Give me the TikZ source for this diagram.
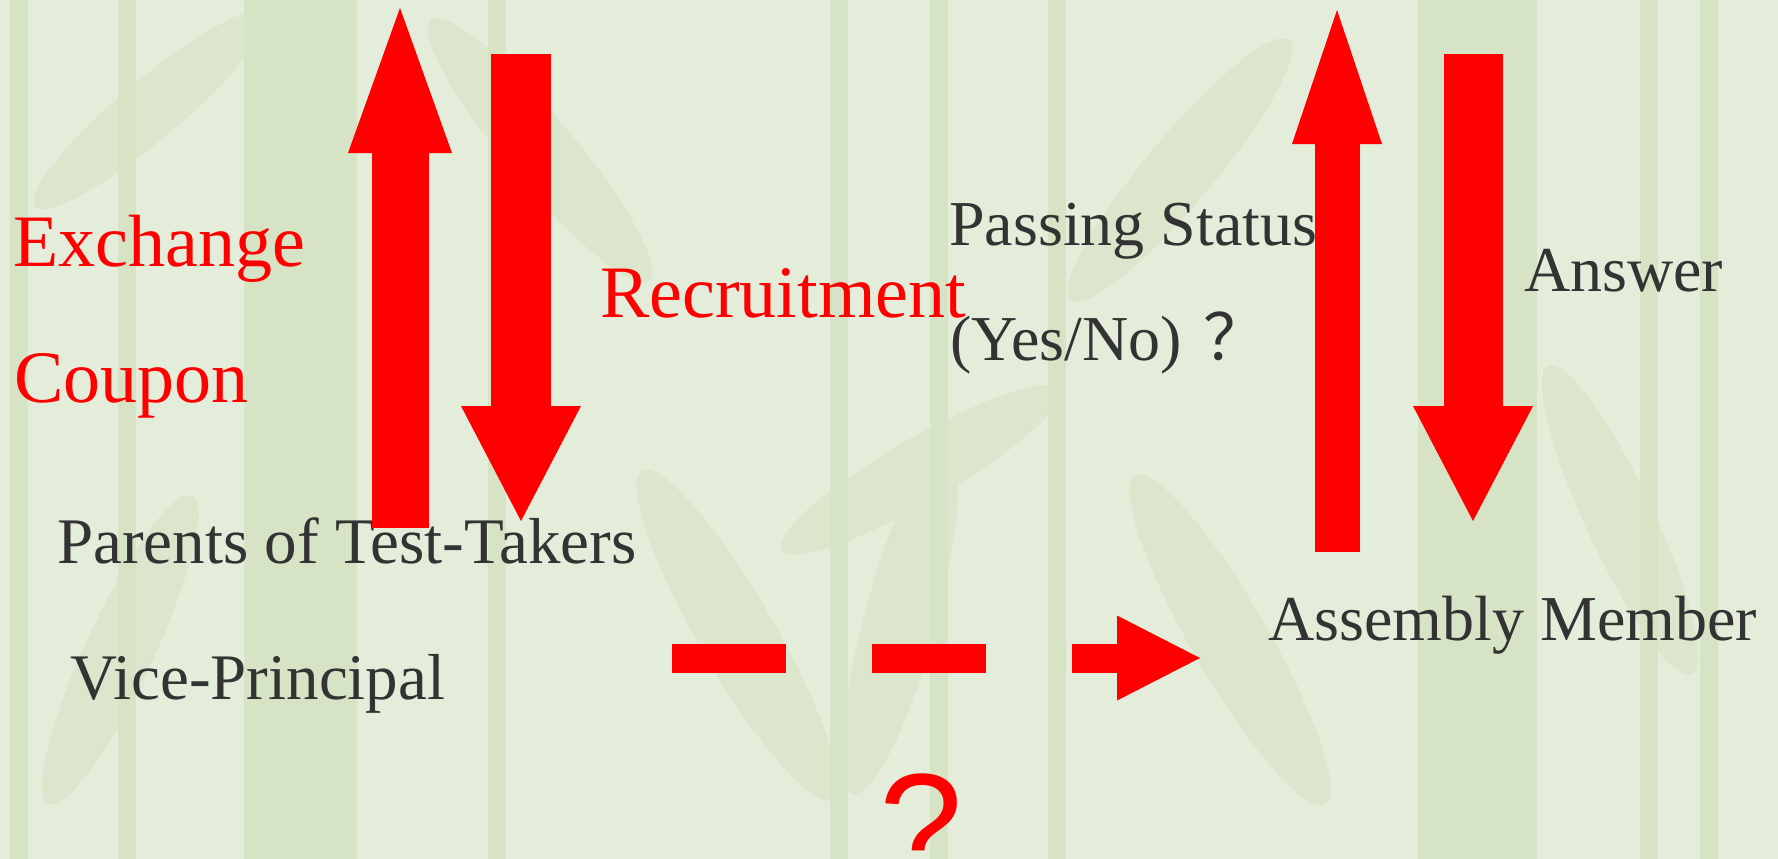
\documentclass[tikz,border=0pt]{standalone}
\usepackage{fontspec}
\setmainfont{Liberation Serif}
\newfontfamily\cjk{Noto Sans CJK SC}
\newfontfamily\qfont{Liberation Sans}
\usetikzlibrary{arrows.meta}
\definecolor{bamboobg}{RGB}{228,237,218}
\definecolor{bamboo}{RGB}{214,227,197}
\definecolor{leaf}{RGB}{219,230,205}
\definecolor{textgray}{RGB}{51,51,51}

\begin{document}
\begin{tikzpicture}[x=1pt, y=-1pt,
  every node/.style = {inner sep=0pt, anchor=base west},
  redlabel/.style = {text=red, font=\fontsize{74}{80}\selectfont},
  graylabel/.style = {text=textgray, font=\fontsize{64}{70}\selectfont},
  redtip/.style = {-{Triangle[length=#1, line width=0pt]}},
  flow/.style = {draw=red, line width=#1}]

  % background
  \useasboundingbox (0,0) rectangle (1778,859);
  \clip (0,0) rectangle (1778,859);
  \fill[bamboobg] (0,0) rectangle (1778,859);
  \fill[leaf, rotate around={-60:(737,635)}] (737,635) ellipse (190 and 38);
  \fill[leaf, rotate around={-105:(900,620)}] (900,620) ellipse (180 and 36);
  \fill[leaf, rotate around={40:(150,110)}] (150,110) ellipse (150 and 30);
  \fill[leaf, rotate around={-50:(540,150)}] (540,150) ellipse (170 and 34);
  \fill[leaf, rotate around={-130:(1180,170)}] (1180,170) ellipse (170 and 34);
  \fill[leaf, rotate around={-60:(1230,640)}] (1230,640) ellipse (190 and 38);
  \fill[leaf, rotate around={30:(920,470)}] (920,470) ellipse (160 and 32);
  \fill[leaf, rotate around={-115:(120,650)}] (120,650) ellipse (170 and 34);
  \fill[leaf, rotate around={-65:(1620,520)}] (1620,520) ellipse (170 and 34);
  \fill[bamboo] (244,0) rectangle (357,859);
  \fill[bamboo] (1418,0) rectangle (1537,859);
  \foreach \x in {10,118,488,830,930,1048,1640,1700}
    \fill[bamboo] (\x,0) rectangle (\x+18,859);

  % labels
  \node[redlabel] (exchange) at (13,266) {Exchange};
  \node[redlabel] (coupon) at (14,402) {Coupon};
  \node[redlabel] (recruit) at (600,317) {Recruitment};
  \node[graylabel, font=\fontsize{65}{70}\selectfont] (parents) at (57,563) {Parents of Test-Takers};
  \node[graylabel, font=\fontsize{65}{70}\selectfont] (vice) at (70,699) {Vice-Principal};
  \node[graylabel] (passing) at (949,245) {Passing Status};
  \node[graylabel] (yesno) at (950,360) {(Yes/No)\hspace{22pt}{\cjk ？}};
  \node[graylabel] (answer) at (1524,291) {Answer};
  \node[graylabel] (member) at (1268,640) {Assembly Member};
  \node[text=red, font=\qfont\fontsize{150}{160}\selectfont, anchor=north] (query) at (921,774) {?};

  % block arrows
  \coordinate (coupon-from) at (400,528);
  \coordinate (coupon-to) at (400,8);
  \coordinate (recruit-from) at (521,54);
  \coordinate (recruit-to) at (521,521);
  \coordinate (status-from) at (1337,552);
  \coordinate (status-to) at (1337,10);
  \coordinate (answer-from) at (1473,54);
  \coordinate (answer-to) at (1473,521);
  \coordinate (deal-from) at (672,658);
  \coordinate (deal-to) at (1200,658);

  \draw[flow=57pt, redtip={145pt, width=104pt}] (coupon-from) -- (coupon-to);
  \draw[flow=60pt, redtip={115pt, width=120pt}] (recruit-from) -- (recruit-to);
  \draw[flow=45pt, redtip={134pt, width=90pt}] (status-from) -- (status-to);
  \draw[flow=59pt, redtip={115pt, width=120pt}] (answer-from) -- (answer-to);
  \draw[flow=29pt, dash pattern=on 114pt off 86pt,
    redtip={83pt, width=85pt}] (deal-from) -- (deal-to);
\end{tikzpicture}
\end{document}
